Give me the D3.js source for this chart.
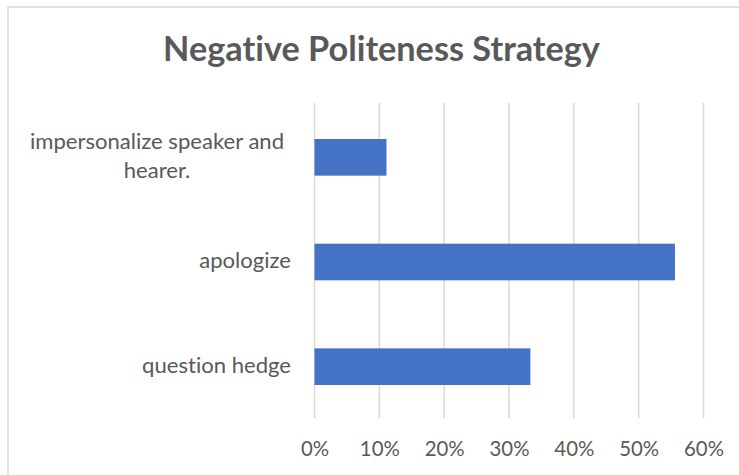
<!DOCTYPE html>
<html><head><meta charset="utf-8">
<script src="https://cdn.jsdelivr.net/npm/d3@7"></script>
<style>html,body{margin:0;padding:0;background:#fff;}svg{display:block;}text{font-variant-ligatures:none;font-feature-settings:"liga" 0;}</style>
</head><body>
<svg id="chart" width="739" height="475"></svg>
<script>
const title = "Negative Politeness Strategy";
const categories = ["impersonalize speaker and hearer.", "apologize", "question hedge"];
const categoryLines = [["impersonalize speaker and", "hearer."], ["apologize"], ["question hedge"]];
const values = [0.111, 0.556, 0.333];
const tickValues = [0, 0.1, 0.2, 0.3, 0.4, 0.5, 0.6];

const svg = d3.select("#chart");
const font = "Lato, 'Open Sans', sans-serif";
const textColor = "#595959";

// border
svg.append("rect").attr("x", 8).attr("y", 7).attr("width", 760).attr("height", 500)
  .attr("fill", "#fff").attr("stroke", "#d9d9d9").attr("stroke-width", 1.5);

const x = d3.scaleLinear().domain([0, 0.6]).range([314.5, 703.5]);
const y = d3.scaleBand().domain(categories).range([105, 419]).paddingInner(0.65).paddingOuter(0.325);

function fit(sel, targetW) {
  const w = sel.node().getComputedTextLength();
  const fs = parseFloat(sel.attr("font-size"));
  sel.attr("font-size", fs * targetW / w);
}

// gridlines
svg.append("g").selectAll("line").data(tickValues).join("line")
  .attr("x1", d => x(d)).attr("x2", d => x(d))
  .attr("y1", 103).attr("y2", 418)
  .attr("stroke", "#d9d9d9").attr("stroke-width", 1.5);

// bars
svg.append("g").selectAll("rect").data(categories).join("rect")
  .attr("x", x(0)).attr("y", d => y(d))
  .attr("width", (d, i) => x(values[i]) - x(0))
  .attr("height", y.bandwidth())
  .attr("fill", "#4472c4");

// x axis labels
const xAxis = d3.axisBottom(x).tickValues(tickValues).tickFormat(d3.format(".0%")).tickSize(0);
const gx = svg.append("g").attr("transform", "translate(0,437)").call(xAxis);
gx.select(".domain").remove();
gx.selectAll("text").attr("font-family", font).attr("font-size", 18).attr("fill", textColor).attr("dy", "0.71em");
fit(gx.selectAll("text").filter((d, i) => i === 6), 40);
const tfs = gx.selectAll("text").filter((d, i) => i === 6).attr("font-size");
gx.selectAll("text").attr("font-size", tfs).attr("dy", null).attr("y", 19);

// category labels
const labelFs = (function(){
  const t = svg.append("text").attr("font-family", font).attr("font-size", 17).text("question hedge");
  fit(t, 149);
  const f = t.attr("font-size"); t.remove(); return f;
})();
categories.forEach((c, i) => {
  const lines = categoryLines[i];
  const cy = y(c) + y.bandwidth() / 2;
  const lh = 29;
  const g = svg.append("g");
  const texts = lines.map((l, j) => g.append("text")
    .attr("font-family", font).attr("font-size", labelFs).attr("fill", textColor)
    .attr("y", cy + (j - (lines.length - 1) / 2) * lh + 6).text(l));
  if (lines.length > 1) {
    texts.forEach(t => t.attr("x", 157).attr("text-anchor", "middle"));
  } else {
    texts.forEach(t => t.attr("x", 291).attr("text-anchor", "end"));
  }
});

// title
const tt = svg.append("text").attr("x", 381.5).attr("y", 61).attr("text-anchor", "middle")
  .attr("font-family", font).attr("font-weight", "bold").attr("font-size", 28)
  .attr("fill", textColor).text(title);
fit(tt, 437);
</script>
</body></html>
